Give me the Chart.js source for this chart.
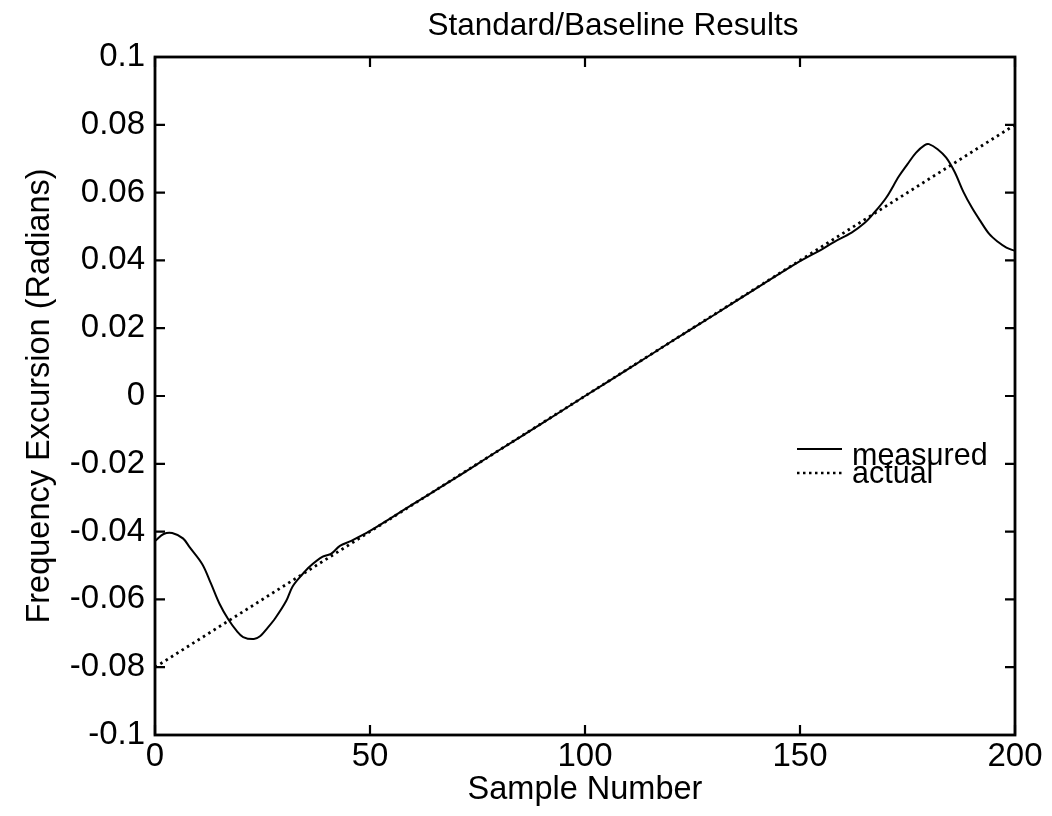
<!DOCTYPE html>
<html>
<head>
<meta charset="utf-8">
<script src="https://cdn.jsdelivr.net/npm/chart.js@4.4.1/dist/chart.umd.min.js"></script>
<style>
  html, body { margin: 0; padding: 0; background: #fff; }
  #wrap { width: 1052px; height: 816px; }
</style>
</head>
<body>
<div id="wrap"><canvas id="c" width="1052" height="816"></canvas></div>
<script>
// ---- data ----
const chartTitle = "Standard/Baseline Results";
const xTitle = "Sample Number";
const yTitle = "Frequency Excursion (Radians)";
const seriesNames = ["measured", "actual"];

const measuredX = [0, 2, 4, 6.5, 8, 11, 13, 15, 17, 19, 20.5, 23, 24.5, 26, 28, 30.5, 32, 34, 36, 39, 41, 43, 45.5, 50,
  60, 70, 80, 90, 100, 110, 120, 130, 140, 150, 155, 158, 162, 165, 167, 170, 173, 175, 177, 179, 180, 182, 184, 186, 188, 190, 192, 194, 196, 198, 200];
const measuredY = [-0.0428, -0.0407, -0.0404, -0.042, -0.0445, -0.0496, -0.0553, -0.0613, -0.0658, -0.0693, -0.0711, -0.0717, -0.0708, -0.0687, -0.0655, -0.0605, -0.0562, -0.053, -0.0503, -0.0474, -0.0465, -0.0442, -0.0428, -0.0398,
  -0.0319, -0.0241, -0.016, -0.0081, 0.0, 0.0079, 0.016, 0.0239, 0.0319, 0.0398, 0.0432, 0.0455, 0.0482, 0.051, 0.0537, 0.0584, 0.0648, 0.0684, 0.0718, 0.074, 0.0743, 0.0728, 0.0703, 0.066, 0.0602, 0.0555, 0.0515, 0.0478, 0.0455, 0.0438, 0.0428];

const actualX = [0, 200];
const actualY = [-0.08, 0.08];

const xTicks = [0, 50, 100, 150, 200];
const yTicks = [-0.1, -0.08, -0.06, -0.04, -0.02, 0, 0.02, 0.04, 0.06, 0.08, 0.1];

// ---- build ----
const FONT = "'Liberation Sans', Arial, Helvetica, sans-serif";
const measuredPts = measuredX.map((x, i) => ({x: x, y: measuredY[i]}));
const actualPts = actualX.map((x, i) => ({x: x, y: actualY[i]}));

const fmt = v => {
  const r = Math.round(v * 1000) / 1000;
  return (Math.abs(r) < 1e-9 ? 0 : r).toString();
};

const framePlugin = {
  id: 'frame',
  afterDraw(chart) {
    const {ctx, chartArea: a, scales} = chart;
    ctx.save();
    ctx.strokeStyle = '#000';
    ctx.lineWidth = 2.8;
    ctx.strokeRect(a.left, a.top, a.right - a.left, a.bottom - a.top);
    ctx.lineWidth = 2.2;
    const L = 10;
    ctx.beginPath();
    xTicks.forEach(v => {
      const px = scales.x.getPixelForValue(v);
      ctx.moveTo(px, a.bottom); ctx.lineTo(px, a.bottom - L);
      ctx.moveTo(px, a.top); ctx.lineTo(px, a.top + L);
    });
    yTicks.forEach(v => {
      const py = scales.y.getPixelForValue(v);
      ctx.moveTo(a.left, py); ctx.lineTo(a.left + L, py);
      ctx.moveTo(a.right, py); ctx.lineTo(a.right - L, py);
    });
    ctx.stroke();

    // title
    ctx.fillStyle = '#000';
    ctx.font = '31.5px ' + FONT;
    ctx.textAlign = 'center';
    ctx.textBaseline = 'alphabetic';
    ctx.fillText(chartTitle, (a.left + a.right) / 2 + 28, 35);

    // legend (no box)
    ctx.font = '30.5px ' + FONT;
    const lx0 = 797, lx1 = 842, tx = 852;
    const rows = [{y: 449, base: 465, dash: [], w: 2}, {y: 473, base: 483, dash: [2.5, 3.5], w: 2.5}];
    rows.forEach((r, i) => {
      ctx.beginPath();
      ctx.setLineDash(r.dash);
      ctx.lineWidth = r.w;
      ctx.moveTo(lx0, r.y); ctx.lineTo(lx1, r.y);
      ctx.stroke();
      ctx.setLineDash([]);
      ctx.textAlign = 'left';
      ctx.fillText(seriesNames[i], tx, r.base);
    });
    ctx.restore();
  }
};

new Chart(document.getElementById('c'), {
  type: 'line',
  data: {
    datasets: [
      {label: seriesNames[0], data: measuredPts, borderColor: '#000', borderWidth: 2, pointRadius: 0, tension: 0.35, fill: false},
      {label: seriesNames[1], data: actualPts, borderColor: '#000', borderWidth: 2.8, borderDash: [2.5, 3.8], pointRadius: 0, fill: false}
    ]
  },
  options: {
    responsive: false,
    animation: false,
    devicePixelRatio: 1,
    layout: {padding: {left: 0, right: 37, top: 57, bottom: 0}},
    plugins: {legend: {display: false}, title: {display: false}, tooltip: {enabled: false}},
    scales: {
      x: {
        type: 'linear', min: 0, max: 200,
        afterBuildTicks: s => { s.ticks = xTicks.map(v => ({value: v})); },
        afterFit: s => { s.height = 81; },
        grid: {display: false, drawTicks: false},
        border: {display: false},
        ticks: {color: '#000', font: {family: FONT, size: 33}, padding: 2, maxRotation: 0, callback: v => fmt(v)},
        title: {display: true, text: xTitle, color: '#000', font: {family: FONT, size: 32.5}, padding: {top: 0, bottom: 6}}
      },
      y: {
        type: 'linear', min: -0.1, max: 0.1,
        afterBuildTicks: s => { s.ticks = yTicks.map(v => ({value: v})); },
        afterFit: s => { s.width = 155; },
        grid: {display: false, drawTicks: false},
        border: {display: false},
        ticks: {color: '#000', font: {family: FONT, size: 33}, padding: 10, callback: v => fmt(v)},
        title: {display: true, text: yTitle, color: '#000', font: {family: FONT, size: 32.5}, padding: {top: 21, bottom: 0}}
      }
    }
  },
  plugins: [framePlugin]
});
</script>
</body>
</html>
